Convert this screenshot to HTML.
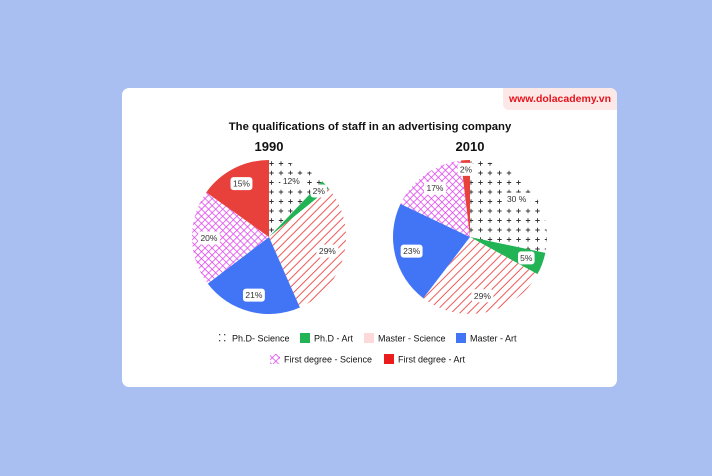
<!DOCTYPE html>
<html><head><meta charset="utf-8">
<style>
html,body{margin:0;padding:0;}
body{width:712px;height:476px;background:#a9bff1;position:relative;overflow:hidden;font-family:"Liberation Sans",sans-serif;}
#card{position:absolute;left:122px;top:88px;width:495px;height:299px;background:#fff;border-radius:7px;}
#wm{position:absolute;left:503px;top:88px;width:114px;height:22px;background:#fde8e8;border-radius:0 7px 0 6px;color:#e3141b;font-size:10.5px;font-weight:bold;line-height:22px;text-align:center;}
svg{position:absolute;left:0;top:0;}
</style></head><body>
<div id="card"></div>
<div id="wm">www.dolacademy.vn</div>
<svg id="chart" width="712" height="476">
<defs>
<pattern id="p-plus" width="9.5" height="9.5" patternUnits="userSpaceOnUse" x="269" y="161">
<rect width="9.5" height="9.5" fill="#fff"/>
<path d="M2.5 0.3V4.7M0.3 2.5H4.7" stroke="#333" stroke-width="0.9"/></pattern>
<pattern id="p-hatch" width="6" height="6" patternUnits="userSpaceOnUse" patternTransform="rotate(45)">
<rect width="6" height="6" fill="#fff"/><line x1="0" y1="0" x2="0" y2="6" stroke="#f05a5a" stroke-width="2"/></pattern>
<pattern id="p-cross" width="5" height="5" patternUnits="userSpaceOnUse" patternTransform="rotate(45)">
<rect width="5" height="5" fill="#fff"/><path d="M0 0V5M0 0H5" stroke="#e040f0" stroke-width="1.5"/></pattern>
</defs>
<text x="370" y="130" text-anchor="middle" font-size="11.3" font-weight="bold" fill="#111">The qualifications of staff in an advertising company</text>
<g id="pies"></g>
<g id="legend"></g>
</svg>
<script>
const categories = ["Ph.D- Science","Ph.D - Art","Master - Science","Master - Art","First degree - Science","First degree - Art"];
const years = ["1990","2010"];
const values1990 = [12,2,29,21,20,15];
const values2010 = [30,5,29,23,17,2];
const labels1990 = ["12%","2%","29%","21%","20%","15%"];
const labels2010 = ["30 %","5%","29%","23%","17%","2%"];
const fills = ["url(#p-plus)","#21b354","url(#p-hatch)","#4274f6","url(#p-cross)","#e8403a"];
const NS="http://www.w3.org/2000/svg";
const pies=document.getElementById('pies');
function mk(tag,attrs,parent){const e=document.createElementNS(NS,tag);for(const k in attrs)e.setAttribute(k,attrs[k]);parent.appendChild(e);return e;}
function drawPie(cx,cy,r,vals,labs,year){
  const g=mk('g',{},pies);
  
  
  const t=mk('text',{x:cx,y:cy-86,'text-anchor':'middle','font-size':13,'font-weight':'bold',fill:'#111'},g);
  t.textContent=year;
  
  
  const tot=vals.reduce((a,b)=>a+b,0);
  let a0=0;
  const mids=[];
  vals.forEach((v,i)=>{
    const a1=a0+v/tot*Math.PI*2;
    const x0=cx+r*Math.sin(a0),y0=cy-r*Math.cos(a0),x1=cx+r*Math.sin(a1),y1=cy-r*Math.cos(a1);
    const p=mk('path',{d:`M${cx} ${cy}L${x0} ${y0}A${r} ${r} 0 ${a1-a0>Math.PI?1:0} 1 ${x1} ${y1}Z`,fill:fills[i]},g);
    
    
    mids.push((a0+a1)/2);a0=a1;
  });
  vals.forEach((v,i)=>{
    const rr=v/tot<0.04?r*0.88:r*0.78;
    const x=cx+rr*Math.sin(mids[i]),y=cy-rr*Math.cos(mids[i]);
    const w=labs[i].length*5.3+6;
    const b=mk('rect',{x:x-w/2,y:y-6.5,width:w,height:13,rx:3,fill:'#fff'},g);
    
    
    const tx=mk('text',{x:x,y:y+3,'text-anchor':'middle','font-size':8.5,fill:'#333'},g);
    tx.textContent=labs[i];
    
    
  });
}
drawPie(269,237,77,values1990,labels1990,years[0]);
drawPie(470,237,77,values2010,labels2010,years[1]);
const lg=document.getElementById('legend');
const legFill=["none","#21b354","#fdd9d9","#4274f6","url(#p-cross)","#ea1c1c"];
const rows=[[0,1,2,3],[4,5]];
const xs=[[218,300,364,456],[270,384]];
rows.forEach((row,ri)=>{row.forEach((ci,j)=>{
  const x=xs[ri][j],y=ri?359:338;
  const g=mk('g',{},lg);
  
  
  if(ci===0){[[1,-4],[6,-4],[1,2],[6,2]].forEach(d=>mk('rect',{x:x+d[0],y:y+d[1],width:1.3,height:1.3,fill:'#444'},g));}
  else mk('rect',{x:x,y:y-5,width:10,height:10,fill:legFill[ci]},g);
  const t=mk('text',{x:x+14,y:y+3.5,'font-size':9,fill:'#111'},g);
  t.textContent=categories[ci];
});});
</script>
</body></html>
